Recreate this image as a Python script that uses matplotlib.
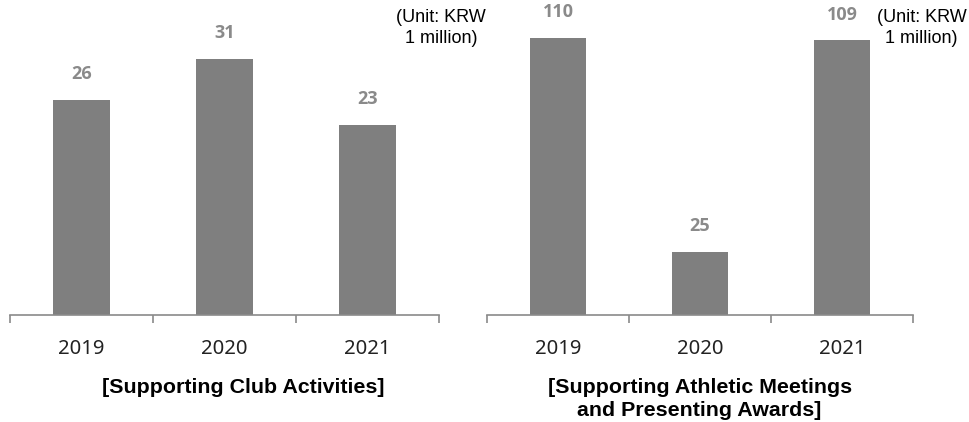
import matplotlib.pyplot as plt

# data
years = ['2019', '2020', '2021']
club_values = [26, 31, 23]
athletic_values = [110, 25, 109]
club_title = '[Supporting Club Activities]'
athletic_title = '[Supporting Athletic Meetings\nand Presenting Awards]'
unit_text = '(Unit: KRW\n1 million)'

bar_color = '#7f7f7f'
label_color = '#8a8a8a'
axis_color = '#8a8a8a'

fig = plt.figure(figsize=(9.69, 4.22), dpi=100)


def draw_panel(rect, values, ymax, title, title_x, title_y, unit_x):
    ax = fig.add_axes(rect)
    x = range(len(values))
    ax.bar(x, values, width=0.4, color=bar_color, zorder=2)
    ax.set_xlim(-0.5, len(values) - 0.5)
    ax.set_ylim(0, ymax)
    for xi, v in zip(x, values):
        ax.annotate(str(v), (xi, v), xytext=(0, 18.5), textcoords='offset points',
                    ha='center', va='center', fontsize=13, fontweight='bold',
                    color=label_color, family='Open Sans')
    for s in ['top', 'left', 'right']:
        ax.spines[s].set_visible(False)
    ax.spines['bottom'].set_color(axis_color)
    ax.spines['bottom'].set_linewidth(1.2)
    ax.set_yticks([])
    ax.set_xticks(list(x))
    ax.set_xticklabels(years, fontsize=14.6, family='Noto Sans', color='#222222')
    ax.tick_params(axis='x', which='major', length=0, pad=17)
    ax.set_xticks([i - 0.5 for i in range(len(values) + 1)], minor=True)
    ax.tick_params(axis='x', which='minor', length=6, width=1.2, color=axis_color)
    fig.text(title_x, title_y, title, ha='center', va='center', fontsize=15.4,
             fontweight='bold', family='Liberation Sans', linespacing=1.25)
    fig.text(unit_x, 0.978, unit_text, ha='center', va='top', fontsize=13,
             family='Liberation Sans', linespacing=1.3)
    return ax


# left panel: 8.27 px per unit, axis 315 px tall
draw_panel([0.0103, 0.2536, 0.4427, 0.7464], club_values, 315 / 8.27,
           club_title, 0.251, 0.081, 0.455)
# right panel: 2.52 px per unit
draw_panel([0.5026, 0.2536, 0.4396, 0.7464], athletic_values, 315 / 2.52,
           athletic_title, 0.722, 0.055, 0.951)

fig.savefig('out.png', dpi=100)
